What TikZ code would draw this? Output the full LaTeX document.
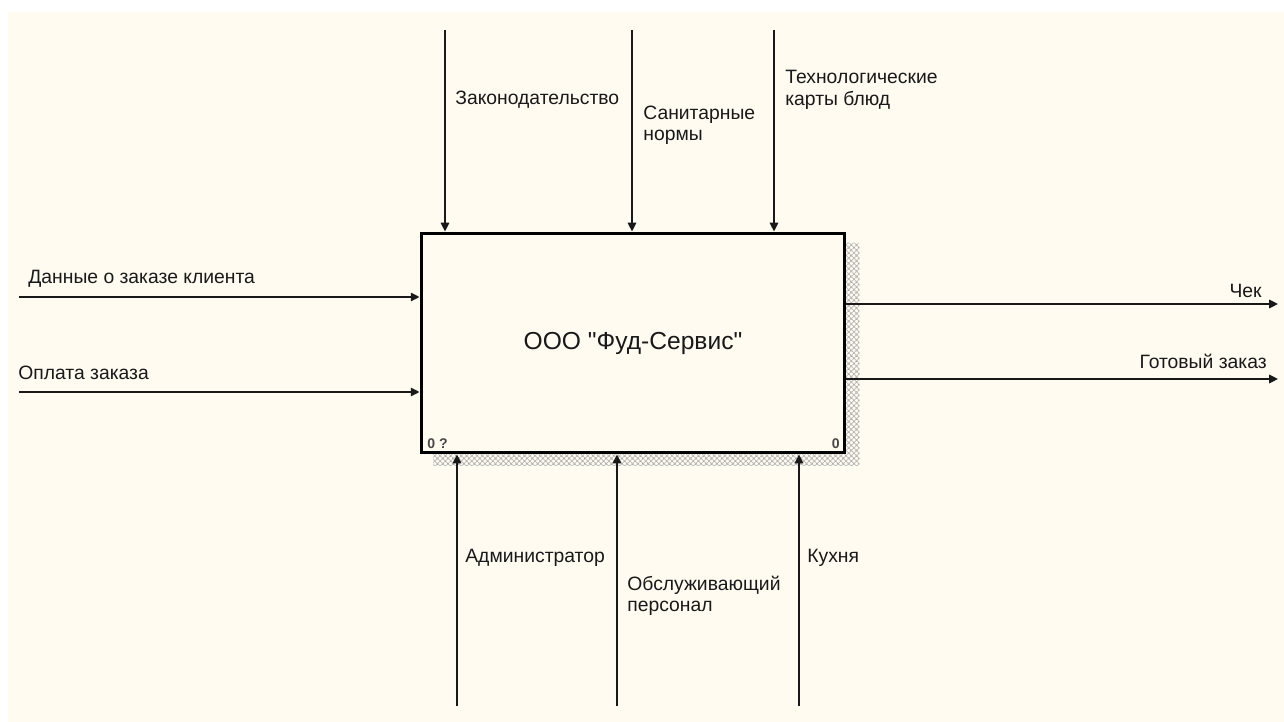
\documentclass[tikz,border=0pt]{standalone}
\usepackage{fontspec}
\newfontfamily\diafont{Liberation Sans}
\usetikzlibrary{arrows.meta,positioning,calc,patterns}
\definecolor{paper}{RGB}{255,251,241}
\definecolor{ink}{RGB}{25,25,25}

\begin{document}
\begin{tikzpicture}[x=0.02cm,y=-0.02cm,
	arr/.style={-{Triangle[length=5pt,width=4.8pt]}, line width=0.95pt, draw=ink},
	lbl/.style={font=\diafont\fontsize{11}{12.2}\selectfont, text=ink, inner sep=0pt, align=left},
	tag/.style={font=\diafont\bfseries\fontsize{8}{9}\selectfont, text=ink!80, inner sep=0pt}]
	\useasboundingbox (0,0) rectangle (1284,722);
	\fill[white] (0,0) rectangle (1284,722);
	\fill[paper] (8,12) rectangle (1284,722);
	
	% shadow of the box
	\fill[pattern=crosshatch dots, pattern color=black!75] (433,453) -- (845,453) -- (845,243) -- (859,243) -- (859,466) -- (433,466) -- cycle;
	\fill[pattern=crosshatch, pattern color=black!25] (433,453) -- (845,453) -- (845,243) -- (859,243) -- (859,466) -- (433,466) -- cycle;
	\node[draw=black, line width=1.7pt, fill=paper, minimum width=8.48cm, minimum height=4.4cm, inner sep=0pt,
		font=\diafont\fontsize{14}{16}\selectfont, text=ink] (fs) at (633,343) {ООО "Фуд-Сервис"};
	\node[tag, anchor=west] (num) at (427,444) {0 ?};
	\node[tag, anchor=east] (nod) at (840,444) {0};
	
	% controls
	\coordinate (zak) at (445,30);
	\coordinate (san) at (632,30);
	\coordinate (teh) at (774,30);
	\draw[arr] (zak) -- (zak |- fs.north);
	\draw[arr] (san) -- (san |- fs.north);
	\draw[arr] (teh) -- (teh |- fs.north);
	\node[lbl, anchor=west] (zakl) at (455,100) {Законодательство};
	\node[lbl, anchor=west] (sanl) at (643,125) {Санитарные\\нормы};
	\node[lbl, anchor=west] (tehl) at (785,90) {Технологические\\карты блюд};
	
	% inputs
	\coordinate (dan) at (19,297);
	\coordinate (opl) at (19,392);
	\draw[arr] (dan) -- (dan -| fs.west);
	\draw[arr] (opl) -- (opl -| fs.west);
	\node[lbl, anchor=west] (danl) at (28,279) {Данные о заказе клиента};
	\node[lbl, anchor=west] (opll) at (18,373) {Оплата заказа};
	
	% outputs
	\coordinate (chk) at (1278,304);
	\coordinate (got) at (1278,379);
	\draw[arr] (chk -| fs.east) -- (chk);
	\draw[arr] (got -| fs.east) -- (got);
	\node[lbl, anchor=east] (chkl) at (1262,291) {Чек};
	\node[lbl, anchor=east] (gotl) at (1267,361) {Готовый заказ};
	
	% mechanisms
	\coordinate (adm) at (457,706);
	\coordinate (obs) at (617,706);
	\coordinate (kuh) at (799,706);
	\draw[arr] (adm) -- (adm |- fs.south);
	\draw[arr] (obs) -- (obs |- fs.south);
	\draw[arr] (kuh) -- (kuh |- fs.south);
	\node[lbl, anchor=west] (adml) at (465,558) {Администратор};
	\node[lbl, anchor=west] (obsl) at (627,596) {Обслуживающий\\персонал};
	\node[lbl, anchor=west] (kuhl) at (807,558) {Кухня};
\end{tikzpicture}
\end{document}
